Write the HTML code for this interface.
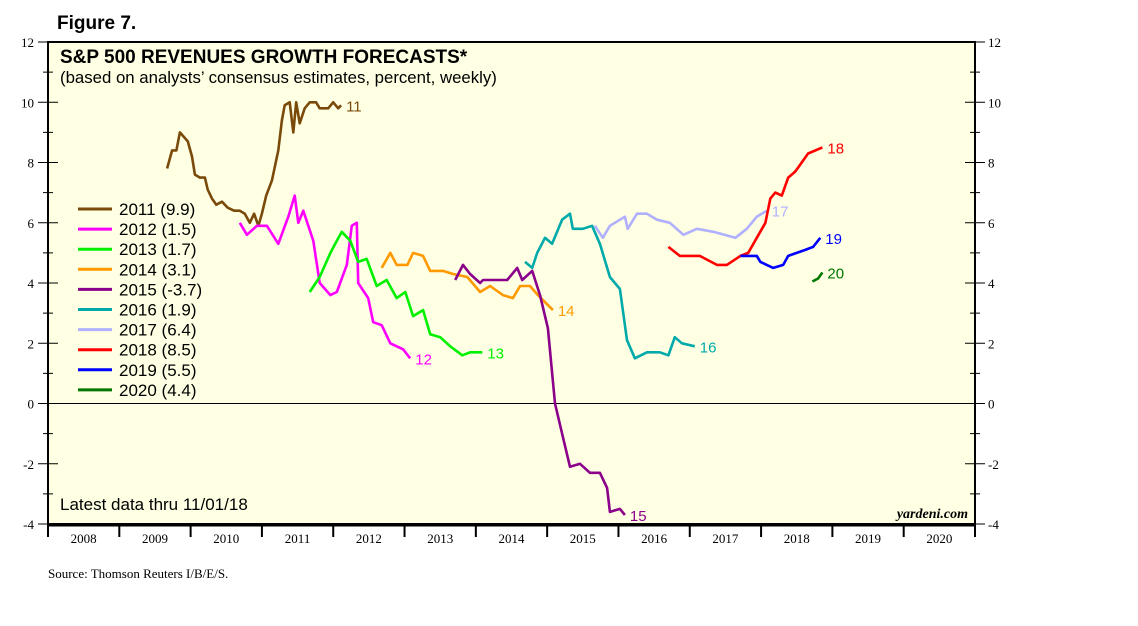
<!DOCTYPE html>
<html><head><meta charset="utf-8"><style>
body{margin:0;background:#fff;width:1138px;height:621px;overflow:hidden}
svg text{font-family:"Liberation Sans",sans-serif}
</style></head><body>
<svg id="chart" width="1138" height="621" viewBox="0 0 1138 621" xmlns="http://www.w3.org/2000/svg">
<text x="57" y="29" font-size="19" font-weight="bold">Figure 7.</text>
<rect x="48" y="42" width="927" height="482" fill="#ffffe3" stroke="#000" stroke-width="2"/>
<text x="60" y="63" font-size="19" font-weight="bold">S&amp;P 500 REVENUES GROWTH FORECASTS*</text>
<text x="60" y="83" font-size="16.8">(based on analysts’ consensus estimates, percent, weekly)</text>
<text x="60" y="510" font-size="17">Latest data thru 11/01/18</text>
<text x="968" y="518" font-size="14" font-weight="bold" font-style="italic" text-anchor="end" style="font-family:'Liberation Serif',serif">yardeni.com</text>
<text x="48" y="578" font-size="13" style="font-family:'Liberation Serif',serif">Source: Thomson Reuters I/B/E/S.</text>
<g id="axes"></g><g id="series"></g><g id="legend"></g>
</svg>
<script>
const yTicks=[-4,-2,0,2,4,6,8,10,12];
const years=[2008,2009,2010,2011,2012,2013,2014,2015,2016,2017,2018,2019,2020];
const names=["2011","2012","2013","2014","2015","2016","2017","2018","2019","2020"];
const legendValues=["9.9","1.5","1.7","3.1","-3.7","1.9","6.4","8.5","5.5","4.4"];
const endLabels=["11","12","13","14","15","16","17","18","19","20"];
const colors=["#7a4a0a","#ff00ff","#00f000","#ff9900","#8b008b","#00aaaa","#b0b0ff","#ff0000","#0000ff","#007700"];
const d11=[2009.67,2009.74,2009.80,2009.85,2009.96,2010.02,2010.06,2010.13,2010.20,2010.24,2010.30,2010.36,2010.44,2010.52,2010.61,2010.69,2010.76,2010.83,2010.89,2010.95,2011.00,2011.06,2011.14,2011.23,2011.28,2011.32,2011.39,2011.44,2011.48,2011.53,2011.60,2011.67,2011.76,2011.81,2011.93,2012.00,2012.07,2012.11];
const v11=[7.8,8.4,8.4,9.0,8.7,8.2,7.6,7.5,7.5,7.1,6.8,6.6,6.7,6.5,6.4,6.4,6.3,6.0,6.3,5.9,6.3,6.9,7.4,8.4,9.4,9.9,10.0,9.0,10.0,9.3,9.8,10.0,10.0,9.8,9.8,10.0,9.8,9.9];
const d12=[2010.69,2010.79,2010.93,2011.07,2011.23,2011.37,2011.46,2011.51,2011.58,2011.72,2011.81,2011.96,2012.05,2012.19,2012.26,2012.33,2012.35,2012.49,2012.56,2012.68,2012.80,2012.98,2013.08];
const v12=[6.0,5.6,5.9,5.9,5.3,6.2,6.9,6.0,6.4,5.4,4.0,3.6,3.7,4.6,5.9,6.0,4.0,3.5,2.7,2.6,2.0,1.8,1.5];
const d13=[2011.67,2011.81,2011.96,2012.05,2012.12,2012.24,2012.35,2012.47,2012.61,2012.75,2012.89,2013.01,2013.12,2013.26,2013.36,2013.50,2013.64,2013.81,2013.92,2014.09];
const v13=[3.7,4.2,5.0,5.4,5.7,5.4,4.7,4.8,3.9,4.1,3.5,3.7,2.9,3.1,2.3,2.2,1.9,1.6,1.7,1.7];
const d14=[2012.68,2012.80,2012.89,2013.04,2013.12,2013.26,2013.36,2013.54,2013.68,2013.88,2014.06,2014.20,2014.38,2014.52,2014.62,2014.76,2014.87,2015.08];
const v14=[4.5,5.0,4.6,4.6,5.0,4.9,4.4,4.4,4.3,4.2,3.7,3.9,3.6,3.5,3.9,3.9,3.6,3.1];
const d15=[2013.71,2013.82,2013.92,2014.06,2014.10,2014.44,2014.58,2014.65,2014.79,2014.90,2015.01,2015.11,2015.22,2015.32,2015.46,2015.60,2015.74,2015.84,2015.88,2016.02,2016.09];
const v15=[4.1,4.6,4.3,4.0,4.1,4.1,4.5,4.1,4.4,3.6,2.5,0.0,-1.1,-2.1,-2.0,-2.3,-2.3,-2.8,-3.6,-3.5,-3.7];
const d16=[2014.69,2014.79,2014.86,2014.97,2015.07,2015.21,2015.32,2015.36,2015.50,2015.63,2015.74,2015.88,2016.02,2016.12,2016.23,2016.40,2016.58,2016.70,2016.79,2016.89,2017.07];
const v16=[4.7,4.5,5.0,5.5,5.3,6.1,6.3,5.8,5.8,5.9,5.3,4.2,3.8,2.1,1.5,1.7,1.7,1.6,2.2,2.0,1.9];
const d17=[2015.67,2015.78,2015.88,2016.09,2016.13,2016.26,2016.40,2016.54,2016.72,2016.91,2017.10,2017.33,2017.64,2017.80,2017.94,2018.08];
const v17=[5.9,5.5,5.9,6.2,5.8,6.3,6.3,6.1,6.0,5.6,5.8,5.7,5.5,5.8,6.2,6.4];
const d18=[2016.70,2016.86,2017.00,2017.14,2017.38,2017.52,2017.71,2017.82,2017.94,2018.06,2018.13,2018.20,2018.29,2018.38,2018.48,2018.57,2018.66,2018.86];
const v18=[5.2,4.9,4.9,4.9,4.6,4.6,4.9,5.0,5.5,6.0,6.8,7.0,6.9,7.5,7.7,8.0,8.3,8.5];
const d19=[2017.71,2017.82,2017.94,2017.99,2018.17,2018.31,2018.38,2018.50,2018.62,2018.73,2018.83];
const v19=[4.9,4.9,4.9,4.7,4.5,4.6,4.9,5.0,5.1,5.2,5.5];
const d20=[2018.72,2018.80,2018.86];
const v20=[4.05,4.15,4.35];
const dates=[d11,d12,d13,d14,d15,d16,d17,d18,d19,d20];
const vals=[v11,v12,v13,v14,v15,v16,v17,v18,v19,v20];

const X0=48,X1=975,Y0=524,Y1=42;
const xs=t=>X0+(t-2008)/13*(X1-X0);
const ys=v=>Y0-(v+4)/16*(Y0-Y1);
const NS="http://www.w3.org/2000/svg";
function mk(tag,attrs,parent,text){const e=document.createElementNS(NS,tag);for(const k in attrs)e.setAttribute(k,attrs[k]);if(text!==undefined)e.textContent=text;parent.appendChild(e);return e;}
const axes=document.getElementById('axes');
for(let v=-4;v<=12;v++){
  const y=ys(v),len=v%2===0?10:5;
  const tl=mk('line',{x1:X0-len,y1:y,x2:X0,y2:y,stroke:'#000'},axes);
  
  
  const tr=mk('line',{x1:X1,y1:y,x2:X1+len,y2:y,stroke:'#000'},axes);
  
  
  const ti=mk('line',{x1:X0,y1:y,x2:X0+len,y2:y,stroke:'#000'},axes);
  
  
  const tj=mk('line',{x1:X1-len,y1:y,x2:X1,y2:y,stroke:'#000'},axes);
  
  
}
yTicks.forEach(v=>{
  const l=mk('text',{x:34,y:ys(v)+5,'font-size':13,'text-anchor':'end',style:"font-family:'Liberation Serif',serif"},axes,v<0?'-'+Math.abs(v):String(v));
  
  
  const r=mk('text',{x:988,y:ys(v)+5,'font-size':13,style:"font-family:'Liberation Serif',serif"},axes,v<0?'-'+Math.abs(v):String(v));
  
  
});
const zl=mk('line',{x1:X0,y1:ys(0),x2:X1,y2:ys(0),stroke:'#000','stroke-width':1},axes);


const xa=mk('line',{x1:X0,y1:Y0+1,x2:X1,y2:Y0+1,stroke:'#000','stroke-width':3},axes);


for(let i=0;i<=years.length;i++){
  const x=xs(2008+i);
  const t=mk('line',{x1:x,y1:Y0,x2:x,y2:Y0+13,stroke:'#000','stroke-width':2},axes);
  
  
}
years.forEach(yr=>{
  const l=mk('text',{x:xs(yr+0.5),y:543,'font-size':13,'text-anchor':'middle',style:"font-family:'Liberation Serif',serif"},axes,String(yr));
  
  
});
const sg=document.getElementById('series');
dates.forEach((d,i)=>{
  const pts=d.map((t,j)=>xs(t).toFixed(1)+','+ys(vals[i][j]).toFixed(1)).join(' ');
  const p=mk('polyline',{points:pts,fill:'none',stroke:colors[i],'stroke-width':2.6,'stroke-linejoin':'round'},sg);
  
  
  const lt=d[d.length-1],lv=vals[i][vals[i].length-1];
  const lab=mk('text',{x:xs(lt)+5,y:ys(lv)+6,'font-size':15,fill:colors[i]},sg,endLabels[i]);
  
  
});
const lg=document.getElementById('legend');
names.forEach((n,i)=>{
  const y=209+i*20.1;
  const ln=mk('line',{x1:78,y1:y,x2:112,y2:y,stroke:colors[i],'stroke-width':3},lg);
  
  
  const tx=mk('text',{x:119,y:y+6,'font-size':17},lg,n+' ('+legendValues[i]+')');
  
  
});
</script>
</body></html>
